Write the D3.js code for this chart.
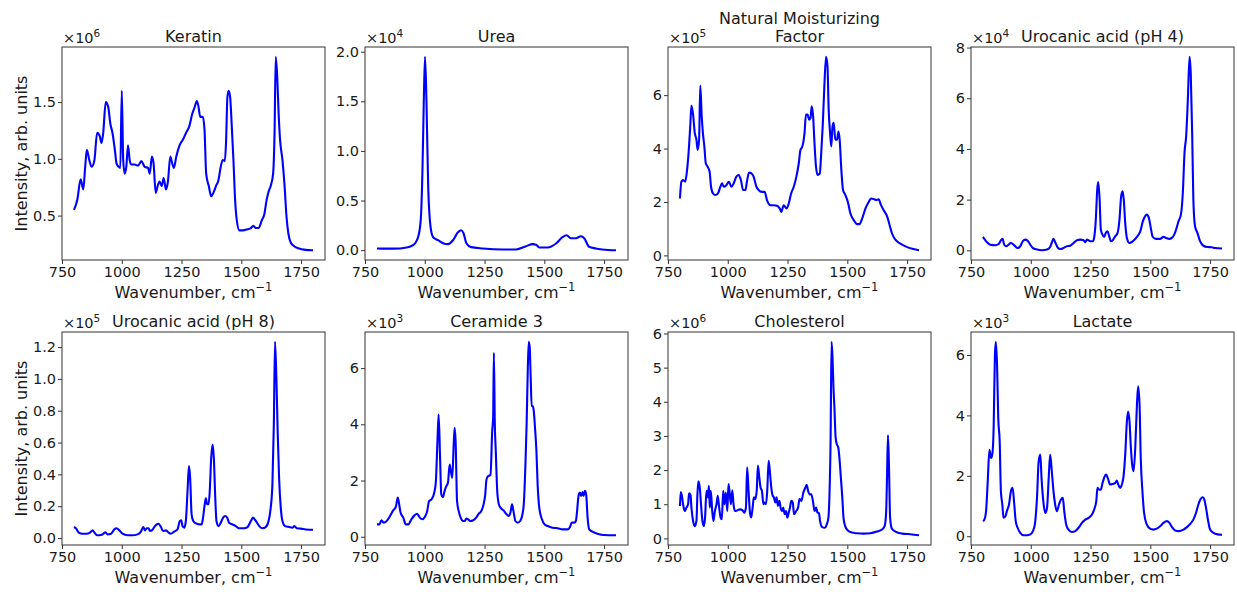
<!DOCTYPE html>
<html>
<head>
<meta charset="utf-8">
<script src="https://cdn.jsdelivr.net/npm/d3@7"></script>
<style>
  html, body { margin: 0; padding: 0; background: #ffffff; }
  svg { display: block; font-family: "DejaVu Sans", sans-serif; }
</style>
</head>
<body>
<svg id="chart" width="1237" height="592"></svg>
<script>
// Raman spectra of skin constituents: [wavenumber (cm^-1), intensity in units of 10^exponent]
const keratin = [[800,0.55],[814,0.64],[828,0.82],[839,0.73],[847,0.93],[854,1.08],[864,0.99],[874,0.93],[885,0.98],[897,1.23],[908,1.2],[915,1.14],[922,1.22],[933,1.5],[943,1.46],[953,1.3],[961,1.23],[971,1.08],[978,0.96],[987,0.93],[994,0.92],[1000,1.6],[1006,0.99],[1012,0.87],[1019,0.93],[1026,1.12],[1033,0.99],[1040,0.95],[1054,0.95],[1068,0.94],[1082,0.98],[1096,0.93],[1110,0.92],[1117,0.87],[1126,1.02],[1133,0.96],[1142,0.7],[1150,0.76],[1158,0.8],[1167,0.76],[1175,0.83],[1185,0.73],[1193,0.8],[1203,1.02],[1211,0.96],[1218,0.92],[1228,1.02],[1242,1.12],[1256,1.17],[1269,1.23],[1283,1.29],[1294,1.39],[1304,1.45],[1314,1.51],[1321,1.46],[1328,1.37],[1339,1.37],[1346,1.26],[1353,0.87],[1364,0.76],[1374,0.67],[1383,0.7],[1394,0.76],[1404,0.81],[1414,0.93],[1422,0.99],[1431,0.98],[1436,1.14],[1442,1.55],[1447,1.6],[1453,1.55],[1460,1.29],[1467,0.99],[1474,0.64],[1481,0.46],[1492,0.37],[1506,0.37],[1526,0.38],[1540,0.39],[1550,0.41],[1561,0.39],[1572,0.39],[1586,0.46],[1596,0.51],[1606,0.64],[1614,0.71],[1624,0.77],[1633,0.87],[1639,1.23],[1644,1.9],[1650,1.73],[1656,1.4],[1662,1.17],[1672,0.99],[1681,0.76],[1689,0.49],[1697,0.34],[1707,0.26],[1721,0.23],[1742,0.21],[1762,0.2],[1800,0.194]];

const urea = [[800,0.017],[830,0.015],[870,0.015],[924,0.027],[951,0.05],[972,0.13],[983,0.3],[990,0.77],[996,1.51],[1001,1.95],[1007,1.51],[1014,0.67],[1024,0.24],[1035,0.13],[1056,0.1],[1076,0.07],[1097,0.06],[1118,0.1],[1139,0.18],[1153,0.2],[1162,0.17],[1174,0.07],[1194,0.03],[1243,0.017],[1326,0.007],[1382,0.007],[1424,0.04],[1451,0.06],[1465,0.055],[1479,0.027],[1514,0.027],[1549,0.067],[1576,0.13],[1593,0.15],[1611,0.12],[1632,0.12],[1653,0.14],[1667,0.12],[1687,0.034],[1715,0.017],[1743,0.007],[1800,-0.002]];

const nmf = [[800,2.13],[806,2.76],[813,2.82],[822,2.76],[829,3.14],[836,3.83],[843,4.83],[848,5.61],[855,5.27],[862,4.58],[869,4.33],[874,3.95],[880,4.33],[885,6.36],[891,5.21],[896,4.58],[902,4.08],[908,3.45],[916,3.32],[924,3.14],[930,2.57],[938,2.32],[948,2.26],[959,2.32],[969,2.57],[976,2.7],[983,2.57],[994,2.63],[1005,2.76],[1015,2.57],[1025,2.7],[1036,2.95],[1046,3.01],[1055,2.82],[1064,2.45],[1074,2.45],[1080,2.76],[1089,3.1],[1099,3.07],[1108,2.95],[1120,2.57],[1129,2.45],[1143,2.38],[1154,2.38],[1164,2.07],[1178,1.88],[1192,1.88],[1206,1.86],[1217,1.76],[1224,1.63],[1234,1.88],[1245,1.76],[1255,1.94],[1265,2.32],[1276,2.57],[1287,2.95],[1297,3.45],[1304,3.95],[1312,4.08],[1321,4.58],[1327,5.27],[1334,5.27],[1340,5.08],[1346,5.14],[1351,5.58],[1357,5.21],[1362,4.33],[1369,3.32],[1376,3.01],[1385,3.07],[1390,3.7],[1397,4.83],[1404,6.34],[1411,7.44],[1417,7.09],[1422,5.46],[1428,4.58],[1433,4.08],[1438,4.83],[1443,4.96],[1450,4.33],[1457,4.33],[1463,4.64],[1468,4.33],[1475,3.2],[1482,2.45],[1492,2.26],[1502,2.01],[1513,1.57],[1527,1.32],[1541,1.17],[1551,1.17],[1562,1.38],[1576,1.76],[1590,2.01],[1599,2.13],[1610,2.11],[1622,2.07],[1631,2.1],[1641,1.88],[1652,1.69],[1666,1.47],[1677,1.13],[1687,0.82],[1701,0.59],[1722,0.44],[1750,0.31],[1776,0.24],[1800,0.19]];

const urocanicPH4 = [[800,0.53],[806,0.45],[817,0.32],[831,0.22],[852,0.2],[866,0.25],[877,0.42],[882,0.45],[889,0.22],[898,0.16],[907,0.22],[917,0.29],[925,0.25],[935,0.16],[945,0.09],[956,0.16],[967,0.36],[977,0.42],[987,0.38],[998,0.22],[1009,0.09],[1026,0.03],[1047,0.0],[1068,0.03],[1081,0.13],[1090,0.36],[1095,0.45],[1102,0.32],[1112,0.12],[1123,0.05],[1137,0.09],[1151,0.16],[1165,0.18],[1179,0.29],[1193,0.4],[1207,0.42],[1221,0.4],[1228,0.32],[1235,0.42],[1249,0.36],[1260,0.36],[1265,0.49],[1272,1.21],[1278,2.4],[1282,2.69],[1288,2.0],[1293,0.82],[1300,0.62],[1307,0.53],[1314,0.69],[1321,0.75],[1328,0.55],[1335,0.36],[1343,0.4],[1353,0.55],[1363,0.69],[1371,1.21],[1378,2.13],[1384,2.33],[1389,2.0],[1395,1.08],[1402,0.49],[1413,0.29],[1427,0.36],[1444,0.53],[1458,0.75],[1469,1.15],[1478,1.34],[1485,1.41],[1494,1.28],[1502,0.88],[1510,0.53],[1524,0.45],[1541,0.45],[1555,0.53],[1566,0.49],[1580,0.45],[1590,0.49],[1600,0.62],[1608,0.82],[1618,1.15],[1628,1.41],[1636,2.27],[1643,3.85],[1650,4.51],[1657,5.96],[1664,7.64],[1669,7.01],[1675,4.64],[1680,2.0],[1687,0.95],[1697,0.69],[1708,0.36],[1722,0.18],[1739,0.13],[1757,0.12],[1771,0.09],[1800,0.07]];

const urocanicPH8 = [[800,0.069],[808,0.061],[820,0.034],[836,0.027],[853,0.027],[867,0.034],[878,0.048],[886,0.034],[896,0.017],[913,0.019],[923,0.027],[931,0.036],[941,0.023],[955,0.027],[969,0.054],[978,0.061],[990,0.048],[1003,0.027],[1024,0.017],[1045,0.017],[1066,0.023],[1080,0.04],[1090,0.069],[1097,0.048],[1104,0.061],[1112,0.061],[1118,0.044],[1126,0.048],[1136,0.069],[1146,0.086],[1154,0.09],[1164,0.069],[1173,0.044],[1185,0.048],[1196,0.034],[1205,0.027],[1219,0.04],[1233,0.054],[1243,0.107],[1249,0.111],[1254,0.075],[1261,0.065],[1268,0.107],[1275,0.295],[1281,0.452],[1286,0.379],[1292,0.149],[1299,0.107],[1310,0.092],[1324,0.086],[1334,0.086],[1340,0.128],[1347,0.212],[1352,0.249],[1357,0.212],[1363,0.212],[1368,0.295],[1374,0.505],[1380,0.588],[1385,0.505],[1391,0.253],[1396,0.107],[1405,0.075],[1414,0.096],[1424,0.128],[1432,0.138],[1441,0.128],[1449,0.096],[1463,0.086],[1477,0.075],[1490,0.061],[1512,0.061],[1526,0.069],[1540,0.107],[1549,0.128],[1561,0.107],[1575,0.075],[1588,0.061],[1602,0.069],[1614,0.107],[1623,0.191],[1630,0.337],[1636,0.714],[1641,1.234],[1647,0.986],[1652,0.672],[1658,0.379],[1665,0.191],[1672,0.107],[1683,0.075],[1700,0.069],[1714,0.065],[1722,0.075],[1732,0.061],[1749,0.059],[1770,0.054],[1800,0.052]];

const ceramide3 = [[800,0.44],[810,0.44],[819,0.58],[829,0.5],[843,0.58],[857,0.77],[868,0.94],[879,1.06],[887,1.39],[893,1.15],[899,0.85],[910,0.68],[921,0.44],[931,0.44],[944,0.62],[958,0.77],[968,0.82],[979,0.68],[990,0.62],[1000,0.7],[1010,0.91],[1018,1.27],[1028,1.33],[1038,1.51],[1046,1.92],[1053,3.4],[1058,4.35],[1064,2.81],[1069,1.51],[1076,1.41],[1083,1.63],[1090,1.8],[1097,1.92],[1104,2.57],[1110,2.28],[1115,2.1],[1121,3.29],[1125,3.88],[1129,3.4],[1135,1.27],[1142,0.91],[1150,0.68],[1160,0.56],[1167,0.56],[1174,0.65],[1181,0.62],[1190,0.56],[1201,0.58],[1215,0.68],[1226,0.82],[1236,0.91],[1246,1.15],[1253,1.51],[1258,2.04],[1265,2.16],[1275,2.19],[1282,3.76],[1286,4.23],[1289,6.54],[1293,4.0],[1297,3.05],[1303,1.63],[1310,1.15],[1319,1.01],[1329,0.94],[1340,0.82],[1350,0.74],[1358,0.85],[1365,1.15],[1371,0.91],[1379,0.56],[1389,0.5],[1399,0.56],[1407,0.74],[1414,1.15],[1421,2.57],[1426,4.0],[1431,6.01],[1435,6.94],[1439,6.73],[1443,5.66],[1447,4.65],[1451,4.65],[1456,4.47],[1461,3.88],[1467,3.05],[1472,1.86],[1479,1.03],[1490,0.62],[1501,0.44],[1514,0.38],[1535,0.32],[1556,0.3],[1576,0.26],[1597,0.26],[1607,0.34],[1615,0.5],[1625,0.5],[1632,0.56],[1637,0.91],[1643,1.45],[1649,1.57],[1654,1.45],[1660,1.59],[1664,1.45],[1670,1.63],[1675,1.51],[1681,0.68],[1688,0.26],[1701,0.18],[1722,0.11],[1750,0.06],[1800,0.05]];

const cholesterol = [[800,0.95],[803,1.36],[807,1.29],[813,1.0],[820,0.8],[827,0.9],[834,1.0],[838,1.32],[844,1.27],[848,0.9],[855,0.51],[862,0.36],[869,0.51],[873,1.29],[877,1.67],[883,1.49],[888,1.0],[894,0.51],[900,0.36],[905,0.61],[911,1.39],[917,1.2],[921,1.54],[925,0.9],[929,1.39],[935,0.8],[940,0.51],[946,0.8],[953,1.0],[958,1.25],[964,0.9],[970,0.61],[975,0.56],[981,1.39],[986,1.0],[992,1.34],[998,0.8],[1003,1.59],[1007,1.39],[1013,1.0],[1019,1.41],[1024,1.0],[1030,0.8],[1040,0.82],[1051,0.85],[1062,0.82],[1069,0.75],[1076,0.9],[1081,2.08],[1087,1.39],[1093,0.75],[1098,0.61],[1104,0.9],[1109,1.2],[1115,1.15],[1121,1.39],[1126,2.13],[1132,1.78],[1137,1.49],[1143,1.39],[1149,1.0],[1154,1.05],[1160,1.0],[1165,1.39],[1171,2.27],[1177,1.88],[1182,1.49],[1188,1.25],[1193,1.2],[1199,1.05],[1204,1.2],[1210,0.95],[1216,1.1],[1221,0.9],[1227,0.8],[1232,0.9],[1238,0.71],[1244,0.8],[1249,0.61],[1255,0.75],[1260,0.9],[1266,1.1],[1272,1.05],[1277,0.71],[1286,0.8],[1294,0.9],[1300,1.15],[1308,1.1],[1316,1.34],[1325,1.49],[1330,1.57],[1336,1.39],[1342,1.29],[1349,1.29],[1356,1.1],[1363,0.8],[1370,0.9],[1375,0.75],[1381,0.75],[1386,0.51],[1395,0.33],[1406,0.31],[1414,0.41],[1421,0.61],[1425,1.2],[1430,2.86],[1434,5.76],[1438,5.31],[1442,4.43],[1446,3.84],[1451,2.96],[1456,2.76],[1462,2.67],[1468,2.27],[1473,1.78],[1479,1.2],[1484,0.61],[1491,0.36],[1501,0.24],[1519,0.17],[1540,0.15],[1568,0.14],[1596,0.15],[1624,0.2],[1645,0.26],[1656,0.36],[1662,0.71],[1666,1.78],[1670,3.02],[1674,2.18],[1679,0.61],[1686,0.29],[1701,0.2],[1729,0.14],[1764,0.12],[1800,0.09]];

const lactate = [[800,0.5],[806,0.55],[813,0.83],[820,1.82],[827,2.86],[834,2.59],[839,2.7],[845,3.69],[850,6.0],[854,6.44],[859,5.67],[864,3.91],[870,3.14],[875,1.49],[881,1.05],[886,0.61],[894,0.66],[900,0.83],[909,1.05],[917,1.49],[924,1.6],[931,1.05],[937,0.5],[945,0.28],[956,0.11],[970,0.03],[984,0.03],[998,0.06],[1009,0.17],[1017,0.39],[1026,1.27],[1033,2.48],[1040,2.7],[1045,1.93],[1054,1.05],[1061,0.77],[1068,0.94],[1075,1.93],[1081,2.7],[1088,2.15],[1095,1.49],[1102,1.05],[1109,0.83],[1118,1.05],[1126,1.21],[1134,1.27],[1140,0.83],[1148,0.39],[1158,0.22],[1172,0.14],[1186,0.17],[1200,0.28],[1214,0.44],[1228,0.55],[1242,0.61],[1256,0.72],[1265,0.88],[1274,1.16],[1279,1.6],[1286,1.54],[1293,1.54],[1300,1.76],[1309,1.98],[1315,2.04],[1322,1.93],[1332,1.71],[1343,1.73],[1353,1.76],[1360,1.84],[1366,1.71],[1374,1.6],[1381,1.71],[1388,1.98],[1395,2.7],[1402,3.8],[1407,4.13],[1413,3.8],[1418,3.03],[1424,2.37],[1430,2.15],[1437,2.92],[1444,4.35],[1449,4.96],[1455,4.35],[1460,2.59],[1467,1.49],[1474,0.77],[1485,0.39],[1499,0.25],[1513,0.22],[1527,0.25],[1541,0.33],[1555,0.44],[1569,0.5],[1580,0.44],[1591,0.3],[1604,0.19],[1618,0.17],[1639,0.22],[1653,0.3],[1667,0.41],[1680,0.55],[1691,0.77],[1701,1.05],[1711,1.24],[1719,1.29],[1726,1.21],[1733,0.94],[1742,0.5],[1750,0.22],[1764,0.11],[1781,0.06],[1800,0.05]];

const titles = [["Keratin"], ["Urea"], ["Natural Moisturizing", "Factor"], ["Urocanic acid (pH 4)"],
                ["Urocanic acid (pH 8)"], ["Ceramide 3"], ["Cholesterol"], ["Lactate"]];
const spectra = [keratin, urea, nmf, urocanicPH4, urocanicPH8, ceramide3, cholesterol, lactate];
const exponents = ["6", "4", "5", "4", "5", "3", "6", "3"];
const yTickValues = [
  [0.5, 1.0, 1.5], [0, 0.5, 1.0, 1.5, 2.0], [0, 2, 4, 6], [0, 2, 4, 6, 8],
  [0, 0.2, 0.4, 0.6, 0.8, 1.0, 1.2], [0, 2, 4, 6], [0, 1, 2, 3, 4, 5, 6], [0, 2, 4, 6]
];
const yTickLabels = [
  ["0.5", "1.0", "1.5"], ["0.0", "0.5", "1.0", "1.5", "2.0"], ["0", "2", "4", "6"], ["0", "2", "4", "6", "8"],
  ["0.0", "0.2", "0.4", "0.6", "0.8", "1.0", "1.2"], ["0", "2", "4", "6"], ["0", "1", "2", "3", "4", "5", "6"], ["0", "2", "4", "6"]
];
const xTickValues = [750, 1000, 1250, 1500, 1750];
const xTickLabels = ["750", "1000", "1250", "1500", "1750"];
const xLabel = "Wavenumber, cm";
const xLabelSup = "\u22121";
const yLabel = "Intensity, arb. units";

// grid geometry
const colLefts = [62, 365, 668, 971];
const rowTops = [47, 332];
const plotW = 263, plotH = 213;
const textColor = "#1a1a1a", spineColor = "#333333", lineColor = "#0000ff";

const svg = d3.select("#chart");

spectra.forEach((data, i) => {
  const row = Math.floor(i / 4), col = i % 4;
  const left = colLefts[col], top = rowTops[row];
  const g = svg.append("g").attr("transform", `translate(${left},${top})`);

  const x = d3.scaleLinear().domain([750, 1850]).range([0, plotW]);
  const [lo, hi] = d3.extent(data, d => d[1]);
  const pad = (hi - lo) * 0.05;
  const y = d3.scaleLinear().domain([lo - pad, hi + pad]).range([plotH, 0]);

  // spectrum line
  g.append("path")
    .datum(data)
    .attr("fill", "none")
    .attr("stroke", lineColor)
    .attr("stroke-width", 2.1)
    .attr("stroke-linejoin", "round")
    .attr("d", d3.line().x(d => x(d[0])).y(d => y(d[1])).curve(d3.curveMonotoneX));

  // frame
  g.append("rect")
    .attr("x", 0).attr("y", 0).attr("width", plotW).attr("height", plotH)
    .attr("fill", "none").attr("stroke", spineColor).attr("stroke-width", 1);

  // axes
  const xAxis = d3.axisBottom(x).tickValues(xTickValues)
    .tickFormat((d, k) => xTickLabels[k]).tickSize(4).tickPadding(3);
  const gx = g.append("g").attr("transform", `translate(0,${plotH})`).call(xAxis);
  const yAxis = d3.axisLeft(y).tickValues(yTickValues[i])
    .tickFormat((d, k) => yTickLabels[i][k]).tickSize(4).tickPadding(2);
  const gy = g.append("g").call(yAxis);
  [gx, gy].forEach(a => {
    a.select(".domain").remove();
    a.selectAll(".tick line").attr("stroke", spineColor).attr("stroke-width", 1);
    a.selectAll(".tick text").attr("fill", textColor)
      .style("font-family", "'DejaVu Sans', sans-serif").style("font-size", "14.5px");
  });

  // title
  const lines = titles[i];
  const title = g.append("text")
    .attr("x", plotW / 2).attr("y", -5 - (lines.length - 1) * 18.5)
    .attr("text-anchor", "middle").attr("fill", textColor)
    .style("font-size", "16px");
  lines.forEach((t, k) => {
    title.append("tspan").attr("x", plotW / 2).attr("dy", k === 0 ? 0 : 18.5).text(t);
  });

  // scale multiplier
  const off = g.append("text").attr("x", 1).attr("y", -4)
    .attr("fill", textColor).style("font-size", "14.5px");
  off.append("tspan").text("\u00d710");
  off.append("tspan").attr("dy", -6).style("font-size", "10.5px").text(exponents[i]);

  // x label
  const xl = g.append("text").attr("x", plotW / 2).attr("y", plotH + 38)
    .attr("text-anchor", "middle").attr("fill", textColor).style("font-size", "16px");
  xl.append("tspan").text(xLabel);
  xl.append("tspan").attr("dy", -7).style("font-size", "11.5px").text(xLabelSup);

  // y label on the first column
  if (col === 0) {
    g.append("text")
      .attr("transform", `translate(${27 - left},${plotH / 2}) rotate(-90)`)
      .attr("text-anchor", "middle").attr("fill", textColor)
      .style("font-size", "16px").text(yLabel);
  }
});
</script>
</body>
</html>
